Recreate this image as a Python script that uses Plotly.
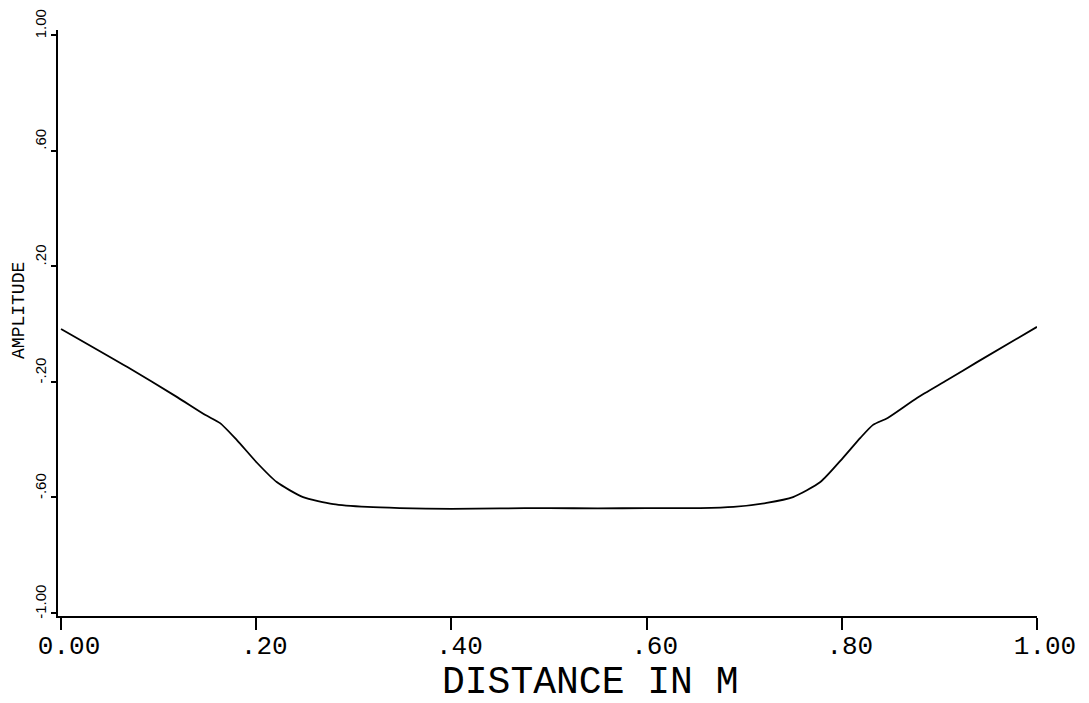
import plotly.graph_objects as go

# Data
distance = [0.0, 0.068, 0.119, 0.148, 0.163, 0.180, 0.201, 0.221, 0.248, 0.279,
            0.314, 0.347, 0.40, 0.45, 0.50, 0.55, 0.60, 0.655, 0.689, 0.723,
            0.750, 0.778, 0.801, 0.819, 0.832, 0.847, 0.877, 0.908, 0.939, 1.0]
amplitude = [-0.017, -0.149, -0.253, -0.315, -0.343, -0.401, -0.481, -0.547, -0.599, -0.623,
             -0.633, -0.637, -0.640, -0.638, -0.637, -0.638, -0.637, -0.637, -0.633, -0.619,
             -0.599, -0.547, -0.464, -0.394, -0.349, -0.325, -0.256, -0.194, -0.131, -0.010]

x_tickvals = [0.0, 0.2, 0.4, 0.6, 0.8, 1.0]
x_ticktext = ["0.00", ".20", ".40", ".60", ".80", "1.00"]
y_tickvals = [-1.0, -0.6, -0.2, 0.2, 0.6, 1.0]
y_ticktext = ["-1.00", "-.60", "-.20", ".20", ".60", "1.00"]

x_title = "DISTANCE IN M"
y_title = "AMPLITUDE"

MONO = "Liberation Mono, DejaVu Sans Mono, monospace"
NARROW = "Liberation Sans Narrow, Liberation Sans, Arial, sans-serif"

fig = go.Figure()
fig.add_trace(go.Scatter(
    x=distance, y=amplitude, mode="lines",
    line=dict(color="black", width=1.8, shape="spline", smoothing=0.6),
    showlegend=False, hoverinfo="skip",
))

# page body has an 8px margin, so the figure is 8px smaller than the window
fig.update_layout(
    width=1081, height=695,
    paper_bgcolor="white", plot_bgcolor="white",
    margin=dict(l=50, r=52, t=22, b=87, autoexpand=False),
    xaxis=dict(
        range=[-0.0031, 1.0], showgrid=False, zeroline=False,
        showline=True, linecolor="black", linewidth=1.6,
        ticks="outside", ticklen=12, tickwidth=1.5, tickcolor="black",
        tickvals=x_tickvals, ticktext=x_ticktext,
        tickfont=dict(family=MONO, size=26, color="black"),
        ticklabelshift=8, ticklabelstandoff=-7,
    ),
    yaxis=dict(
        range=[-1.0104, 1.0173], showgrid=False, zeroline=False,
        showline=True, linecolor="black", linewidth=1.6,
        ticks="outside", ticklen=5, tickwidth=1.5, tickcolor="black",
        tickvals=y_tickvals, ticktext=y_ticktext, tickangle=-90,
        tickfont=dict(family=NARROW, size=15, color="black"),
        ticklabelshift=-9, ticklabelstandoff=-1,
        ticklabeloverflow="allow",
    ),
    annotations=[
        dict(text=x_title, xref="paper", yref="paper", x=0.543, y=-0.113,
             xanchor="center", yanchor="middle", showarrow=False,
             font=dict(family=MONO, size=38, color="black")),
        dict(text=y_title, xref="paper", yref="paper", x=-0.040, y=0.522,
             xanchor="center", yanchor="middle", textangle=-90, showarrow=False,
             font=dict(family=MONO, size=18, color="black")),
    ],
)

fig.write_html("out.html")
